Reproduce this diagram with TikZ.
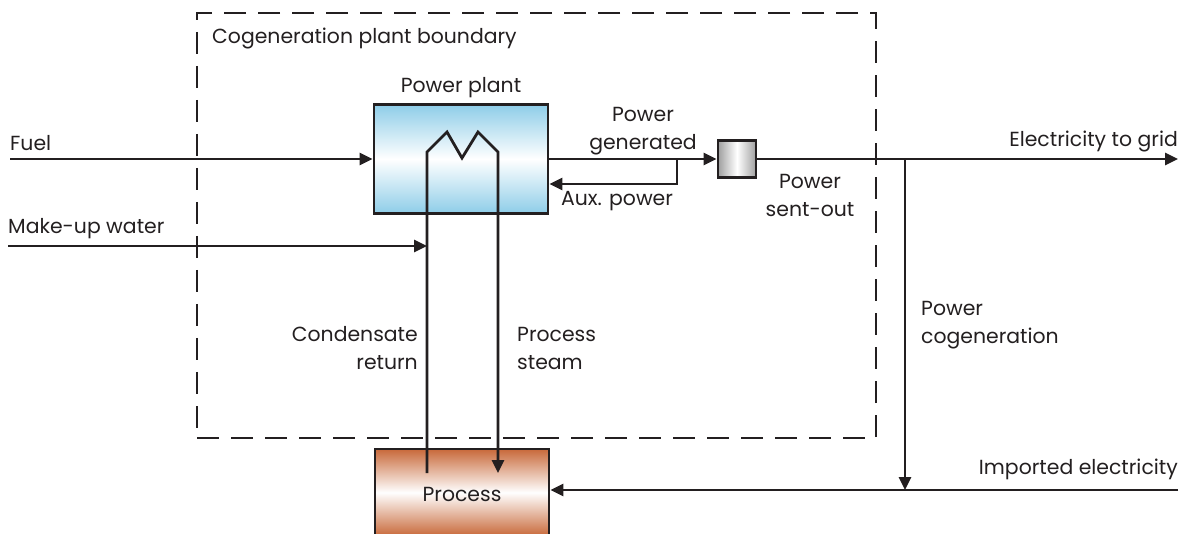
\documentclass[tikz,border=0pt]{standalone}
\usepackage{fontspec}
\setmainfont{Poppins}
\usetikzlibrary{arrows.meta}

\definecolor{plantblue}{HTML}{8ECDE8}
\definecolor{copper}{HTML}{C8693A}
\definecolor{ink}{HTML}{231F20}

\tikzset{
  line/.style={line width=2.8pt, draw=ink},
  flow/.style={line, -{Triangle[length=13pt,width=12pt]}},
  lbl/.style={font=\fontsize{20.4}{28}\selectfont, text=ink, inner sep=0pt},
  unit/.style={draw=ink, line width=2.8pt, inner sep=0pt},
}

\begin{document}
\begin{tikzpicture}[x=1pt,y=-1pt]
\useasboundingbox (0,0) rectangle (1191,534);

\node[unit, dash pattern=on 22pt off 12pt, minimum width=679pt, minimum height=425pt] (boundary) at (536.5,225.5) {};
\node[lbl, anchor=west] (boundlbl) at (212,38) {Cogeneration plant boundary};

\node[unit, minimum width=174pt, minimum height=109pt, top color=plantblue, bottom color=plantblue, middle color=white] (plant) at (461,159) {};
\node[lbl] (plantlbl) at (461,88) {Power plant};
\node[unit, minimum width=38pt, minimum height=37pt, left color=gray!75, right color=gray!75, middle color=white] (meter) at (737,159) {};
\node[unit, minimum width=174pt, minimum height=87pt, top color=copper, bottom color=copper, middle color=white] (process) at (462,492.5) {};
\node[lbl] (processlbl) at (462,494) {Process};

\coordinate (fuelin) at (10,159);
\coordinate (waterin) at (8,246);
\coordinate (cond) at (427,246);
\coordinate (condbot) at (427,473);
\coordinate (steambot) at (498,473);
\coordinate (auxtap) at (677,159);
\coordinate (auxret) at (677,184);
\coordinate (grid) at (1178,159);
\coordinate (cogen) at (905,159);
\coordinate (imp) at (1178,490);

\draw[flow] (fuelin) -- (plant.west);
\draw[flow] (waterin) -- (cond);
\draw[flow] (condbot) -- (427,152) -- (447,132) -- (462,158) -- (478,132) -- (498,152) -- (steambot);
\draw[flow] (plant.east) -- (meter.west);
\draw[flow] (auxtap) -- (auxret) -- (plant.east |- auxret);
\draw[flow] (meter.east) -- (grid);
\draw[flow] (cogen) -- (cogen |- imp);
\draw[flow] (imp) -- (process.east |- imp);

\node[lbl, anchor=west] (fuel) at (10,143) {Fuel};
\node[lbl, anchor=west] (water) at (8,229) {Make-up water};
\node[lbl, align=center] (gen) at (643,131) {Power\\generated};
\node[lbl] (aux) at (617,201) {Aux. power};
\node[lbl, align=center] (sent) at (810,195) {Power\\sent-out};
\node[lbl, anchor=east] (gridlbl) at (1178,141) {Electricity to grid};
\node[lbl, anchor=west, align=left] (cogenlbl) at (921,325) {Power\\cogeneration};
\node[lbl, anchor=east] (implbl) at (1178,469) {Imported electricity};
\node[lbl, anchor=east, align=right] (condlbl) at (418,348) {Condensate\\return};
\node[lbl, anchor=west, align=left] (steamlbl) at (517,348) {Process\\steam};
\end{tikzpicture}
\end{document}
